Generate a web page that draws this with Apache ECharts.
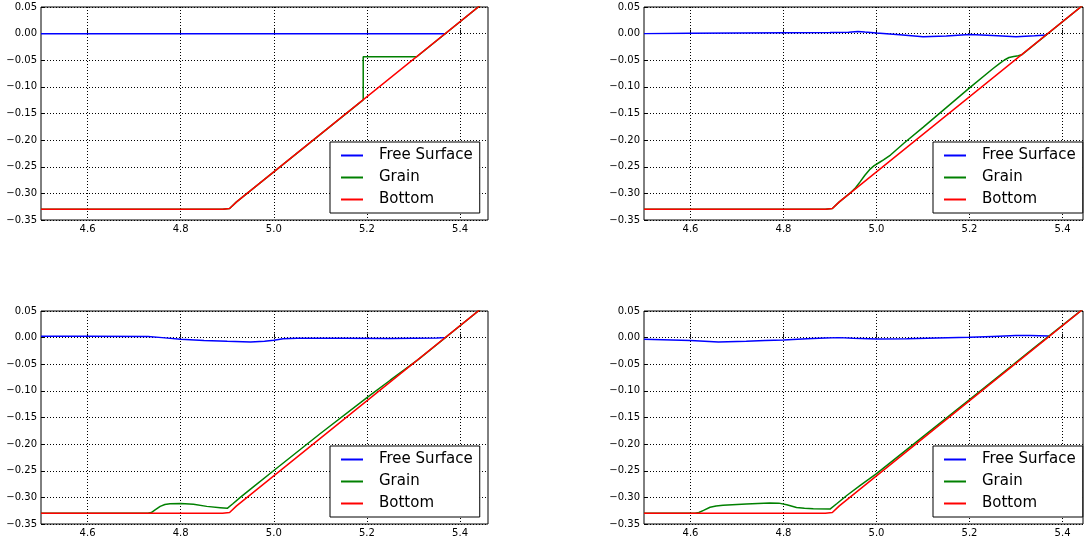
<!doctype html>
<html lang="en">
<head>
  <meta charset="UTF-8">
  <title>Free Surface / Grain / Bottom</title>
  <style>
    html, body { margin: 0; padding: 0; background: #fff; }
    #chart { width: 1084px; height: 544px; }
  </style>
  <script src="https://cdn.jsdelivr.net/npm/echarts/dist/echarts.min.js"></script>
</head>
<body>
  <div id="chart"></div>
  <script>
    var names = ['Free Surface', 'Grain', 'Bottom'];
    var xTicks = [4.6, 4.8, 5.0, 5.2, 5.4];

    // bed profile, same in every panel
    var bottom = [[4.5, -0.33], [4.89, -0.33], [4.905, -0.3285], [4.92, -0.316], [5.46, 0.0648]];

    // panel 1 (top left)
    var surface1 = [[4.5, 0], [5.369, 0]];
    var grain1 = [[4.5, -0.33], [4.89, -0.33], [4.905, -0.3285], [4.92, -0.316], [5.192, -0.1244],
      [5.192, -0.0434], [5.307, -0.0434], [5.46, 0.0648]];

    // panel 2 (top right)
    var surface2 = [[4.5, 0], [4.6, 0.0005], [4.7, 0.001], [4.8, 0.0015], [4.9, 0.002], [4.94, 0.0025],
      [4.96, 0.0042], [4.975, 0.003], [5.0, 0.0012], [5.05, -0.002], [5.1, -0.0058], [5.15, -0.0045],
      [5.2, -0.0015], [5.25, -0.0035], [5.3, -0.0058], [5.34, -0.004], [5.366, -0.0025]];
    var grain2 = [[4.5, -0.33], [4.89, -0.33], [4.905, -0.3285], [4.92, -0.316], [4.945, -0.298],
      [4.955, -0.2895], [4.965, -0.278], [4.975, -0.266], [4.985, -0.2555], [4.995, -0.248],
      [5.005, -0.2425], [5.015, -0.237], [5.03, -0.228], [5.06, -0.205], [5.1, -0.176], [5.2, -0.102],
      [5.25, -0.066], [5.265, -0.056], [5.275, -0.0495], [5.285, -0.0448], [5.295, -0.0428],
      [5.305, -0.0415], [5.312, -0.0398], [5.46, 0.0648]];

    // panel 3 (bottom left)
    var surface3 = [[4.5, 0.0026], [4.6, 0.0025], [4.73, 0.002], [4.76, 0.0], [4.8, -0.003],
      [4.85, -0.0055], [4.9, -0.007], [4.95, -0.008], [4.98, -0.0068], [5.0, -0.005], [5.02, -0.002],
      [5.05, -0.001], [5.15, -0.0012], [5.25, -0.0015], [5.35, -0.0006], [5.369, 0.0]];
    var grain3 = [[4.5, -0.33], [4.73, -0.33], [4.737, -0.3285], [4.745, -0.3235], [4.756, -0.3169],
      [4.766, -0.3135], [4.777, -0.3118], [4.8, -0.3113], [4.8275, -0.3131], [4.856, -0.3169],
      [4.885, -0.3193], [4.9, -0.3206], [4.912, -0.312], [4.928, -0.300], [4.95, -0.2845],
      [5.0, -0.2496], [5.1, -0.180], [5.2, -0.1128], [5.25, -0.080], [5.31, -0.0414], [5.46, 0.0648]];

    // panel 4 (bottom right)
    var surface4 = [[4.5, -0.003], [4.6, -0.0056], [4.66, -0.008], [4.72, -0.007], [4.76, -0.0056],
      [4.8, -0.0043], [4.85, -0.002], [4.89, -0.0006], [4.92, 0.0], [4.95, -0.001], [5.0, -0.0025],
      [5.065, -0.002], [5.13, -0.0005], [5.2, 0.0007], [5.25, 0.0022], [5.3, 0.0038], [5.33, 0.004],
      [5.37, 0.003]];
    var grain4 = [[4.5, -0.33], [4.61, -0.33], [4.618, -0.3285], [4.628, -0.3245], [4.642, -0.3185],
      [4.655, -0.3162], [4.67, -0.315], [4.72, -0.3125], [4.77, -0.3105], [4.79, -0.3108],
      [4.807, -0.314], [4.828, -0.319], [4.845, -0.3205], [4.864, -0.3215], [4.9, -0.322],
      [4.915, -0.3115], [4.936, -0.2965], [4.965, -0.2775], [5.0, -0.2555], [5.1, -0.1858],
      [5.2, -0.1163], [5.3, -0.0464], [5.34, -0.0182], [5.46, 0.0648]];

    var panels = [
      { surface: surface1, grain: grain1, xMax: 5.46 },
      { surface: surface2, grain: grain2, xMax: 5.444 },
      { surface: surface3, grain: grain3, xMax: 5.46 },
      { surface: surface4, grain: grain4, xMax: 5.444 }
    ];

    var font = 'DejaVu Sans';
    var grids = [
      { left: 41, top: 7, width: 447, height: 213 },
      { left: 644, top: 7, width: 439, height: 213 },
      { left: 41, top: 311, width: 447, height: 213 },
      { left: 644, top: 311, width: 439, height: 213 }
    ];
    var colors = ['#0000ff', '#008000', '#ff0000'];

    function yLabel(v) {
      if (Math.abs(v) < 1e-9) return '0.00';
      var s = Math.abs(v).toFixed(2);
      return v < 0 ? '\u2212' + s : s;
    }

    var option = {
      animation: false,
      backgroundColor: '#fff',
      grid: [],
      xAxis: [],
      yAxis: [],
      legend: [],
      series: []
    };

    for (var i = 0; i < 4; i++) {
      var g = grids[i];
      option.grid.push({
        left: g.left, top: g.top, width: g.width, height: g.height,
        show: true, borderColor: '#000', borderWidth: 1, backgroundColor: '#fff'
      });
      option.xAxis.push({
        type: 'value', gridIndex: i, min: 4.5, max: panels[i].xMax,
        axisLine: { show: false },
        axisTick: { show: true, inside: true, length: 4, customValues: xTicks, lineStyle: { color: '#000' } },
        axisLabel: {
          customValues: xTicks, margin: 4, color: '#000', fontFamily: font, fontSize: 10,
          formatter: function (v) { return v.toFixed(1); }
        },
        splitLine: { show: true, lineStyle: { color: '#000', type: [1, 2], width: 1 } }
      });
      option.yAxis.push({
        type: 'value', gridIndex: i, min: -0.35, max: 0.05, interval: 0.05,
        axisLine: { show: false },
        axisTick: { show: true, inside: true, length: 4, lineStyle: { color: '#000' } },
        axisLabel: { margin: 4, color: '#000', fontFamily: font, fontSize: 10, formatter: yLabel },
        splitLine: { show: true, lineStyle: { color: '#000', type: [1, 2], width: 1 } }
      });
      option.legend.push({
        orient: 'vertical',
        left: g.left + 289,
        top: g.top + 135,
        padding: [6, 7, 6, 11],
        itemGap: 7,
        itemWidth: 22,
        itemHeight: 2,
        icon: 'rect',
        borderColor: '#000',
        borderWidth: 1,
        borderRadius: 0,
        backgroundColor: '#fff',
        selectedMode: false,
        textStyle: { fontFamily: font, fontSize: 15, color: '#000', padding: [0, 0, 0, 11] },
        data: names
      });
      var lines = [panels[i].surface, panels[i].grain, bottom];
      for (var k = 0; k < 3; k++) {
        option.series.push({
          name: names[k],
          type: 'line',
          xAxisIndex: i,
          yAxisIndex: i,
          data: lines[k],
          symbol: 'none',
          showSymbol: false,
          lineStyle: { color: colors[k], width: 1.5 },
          itemStyle: { color: colors[k] },
          z: 2 + k
        });
      }
    }

    var myChart = echarts.init(document.getElementById('chart'));
    myChart.setOption(option);
  </script>
</body>
</html>
